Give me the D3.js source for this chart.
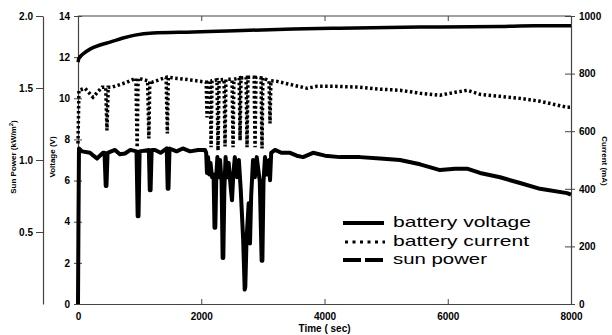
<!DOCTYPE html>
<html>
<head>
<meta charset="utf-8">
<script src="https://cdn.jsdelivr.net/npm/d3@7"></script>
<style>
  html, body { margin: 0; padding: 0; background: #fff; }
  svg { display: block; }
  text { font-family: "Liberation Sans", Arial, sans-serif; }
</style>
</head>
<body>
<svg id="chart" width="612" height="335"></svg>
<script>
// ---------- data ----------
const timeTicks = [0, 2000, 4000, 6000, 8000];
const voltTicks = [0, 2, 4, 6, 8, 10, 12, 14];
const sunTicks = [0.5, 1.0, 1.5, 2.0];
const currTicks = [0, 200, 400, 600, 800, 1000];

const voltTime = [0, 16, 81, 195, 357, 519, 730, 925, 1217, 1866, 2418, 3490, 4252, 5550, 6849, 7400, 8000];
const voltValue = [11.76, 11.95, 12.15, 12.39, 12.59, 12.73, 12.93, 13.07, 13.17, 13.22, 13.27, 13.37, 13.41, 13.46, 13.49, 13.52, 13.52];

const currTime = [0, 15, 114, 243, 390, 450, 470, 490, 552, 795, 940, 960, 975, 1130, 1150, 1165, 1201, 1430, 1450, 1465,
  1866, 2080, 2094, 2108, 2145, 2160, 2175, 2255, 2272, 2290, 2370, 2386, 2400, 2500, 2516, 2530, 2615, 2630, 2645,
  2728, 2743, 2758, 2858, 2873, 2888, 2970, 2986, 3000, 3100, 3116, 3130, 3230, 3490, 3717, 3879, 4139, 4577, 4901,
  5226, 5550, 5875, 6119, 6313, 6524, 6849, 7173, 7498, 7936, 8000];
const currValue = [557, 742, 749, 718, 753, 753, 603, 753, 753, 770, 784, 544, 784, 775, 575, 775, 770, 787, 592, 787,
  777, 770, 648, 770, 775, 544, 775, 778, 533, 778, 780, 547, 780, 780, 544, 780, 785, 568, 785,
  787, 544, 787, 787, 544, 787, 785, 540, 785, 775, 627, 775, 773, 760, 749, 756, 756, 753, 746,
  742, 732, 725, 735, 742, 728, 721, 714, 704, 683, 683];

const sunTime = [0, 8, 16, 65, 195, 250, 308, 406, 430, 450, 462, 480, 600, 680, 763, 850, 950, 968, 982, 1000, 1150, 1165, 1178, 1195,
  1250, 1340, 1440, 1455, 1468, 1485, 1600, 1700, 1818, 1950, 2061, 2080, 2093, 2110, 2130, 2150, 2175, 2200, 2215, 2228, 2245, 2262, 2280, 2305, 2330, 2347, 2358,
  2375, 2395, 2420, 2445, 2480, 2499, 2520, 2545, 2580, 2610, 2640, 2680, 2705, 2715, 2735, 2770, 2791, 2810, 2840, 2870, 2900, 2950, 2980, 2992, 3010,
  3035, 3060, 3100, 3116, 3135, 3197, 3300, 3441, 3550, 3652, 3814, 4009, 4252, 4577, 4901, 5226, 5550, 5875, 6119, 6313, 6524, 6849,
  7173, 7498, 7936, 8000];
const sunPower = [0, 0.6, 1.08, 1.06, 1.05, 1.03, 1.01, 1.05, 1.05, 0.82, 0.82, 1.05, 1.07, 1.04, 1.045, 1.07, 1.06, 0.61, 0.61, 1.06, 1.07, 0.79, 0.79, 1.07,
  1.07, 1.05, 1.08, 0.80, 0.80, 1.08, 1.06, 1.08, 1.06, 1.07, 1.07, 1.05, 0.91, 1.02, 0.90, 0.98, 0.88, 0.90, 0.53, 0.53, 0.90, 1.02, 0.88, 1.0, 0.85, 0.32, 0.32,
  0.80, 1.02, 0.88, 0.98, 0.80, 0.72, 0.90, 1.02, 0.88, 1.0, 0.80, 0.45, 0.10, 0.12, 0.45, 0.70, 0.42, 0.75, 1.0, 0.88, 1.02, 0.85, 0.30, 0.30, 0.85,
  1.02, 0.90, 1.0, 0.86, 1.05, 1.07, 1.05, 1.05, 1.03, 1.02, 1.05, 1.03, 1.02, 1.02, 1.01, 1.00, 0.97, 0.93, 0.94, 0.94, 0.91, 0.88,
  0.84, 0.80, 0.77, 0.76];

const legendLabels = ["battery voltage", "battery current", "sun power"];

// ---------- layout ----------
const svg = d3.select("#chart");
const X0 = 78, X1 = 571, Y0 = 304, Y1 = 16;
const x = d3.scaleLinear().domain([0, 8000]).range([X0, X1]);
const yV = d3.scaleLinear().domain([0, 14]).range([Y0, Y1]);
const yS = d3.scaleLinear().domain([0, 2]).range([Y0, Y1]);
const yC = d3.scaleLinear().domain([0, 1000]).range([Y0, Y1]);

const axisColor = "#444";
function styleAxis(g) {
  g.selectAll("path.domain").attr("stroke", axisColor).attr("stroke-width", 1.2);
  g.selectAll(".tick line").attr("stroke", axisColor).attr("stroke-width", 1);
  g.selectAll(".tick text").attr("font-family", "Liberation Sans, Arial, sans-serif")
    .attr("font-weight", "bold").attr("font-size", 10).attr("fill", "#000");
}

// top border
svg.append("line").attr("x1", X0).attr("x2", X1).attr("y1", Y1).attr("y2", Y1)
  .attr("stroke", axisColor).attr("stroke-width", 1.2);
// top ticks
svg.append("g").attr("transform", `translate(0,${Y1})`)
  .call(d3.axisTop(x).tickValues(timeTicks.slice(1, 4)).tickSize(-5).tickFormat(""))
  .call(g => g.select("path.domain").remove())
  .call(styleAxis);

// bottom axis
svg.append("g").attr("transform", `translate(0,${Y0})`)
  .call(d3.axisBottom(x).tickValues(timeTicks).tickSizeInner(-5).tickSizeOuter(0).tickPadding(9).tickFormat(d3.format("d")))
  .call(styleAxis);

// left voltage axis (crossing ticks)
const gV = svg.append("g").attr("transform", `translate(${X0},0)`)
  .call(d3.axisLeft(yV).tickValues(voltTicks).tickSizeInner(4).tickSizeOuter(0).tickPadding(4).tickFormat(d3.format("d")))
  .call(styleAxis);
gV.selectAll(".tick line").attr("x1", 4);

// right current axis
const gC = svg.append("g").attr("transform", `translate(${X1},0)`)
  .call(d3.axisRight(yC).tickValues(currTicks).tickSizeInner(4).tickSizeOuter(0).tickPadding(4).tickFormat(d3.format("d")))
  .call(styleAxis);
gC.selectAll(".tick line").attr("x1", -6);

// sun power axis (separate, far left)
svg.append("g").attr("transform", `translate(43,0)`)
  .call(d3.axisLeft(yS).tickValues(sunTicks).tickSizeInner(7).tickSizeOuter(0).tickPadding(3).tickFormat(d3.format(".1f")))
  .call(styleAxis);

// axis titles
svg.append("text").attr("x", (X0 + X1) / 2).attr("y", 332).attr("text-anchor", "middle")
  .attr("font-weight", "bold").attr("font-size", 10).text("Time ( sec)");

svg.append("text").attr("transform", "translate(16,157) rotate(-90)").attr("text-anchor", "middle")
  .attr("font-weight", "bold").attr("font-size", 8)
  .html('Sun Power (kW/m<tspan baseline-shift="super" font-size="6">2</tspan>)');

svg.append("text").attr("transform", "translate(55,157) rotate(-90)").attr("text-anchor", "middle")
  .attr("font-weight", "bold").attr("font-size", 8).text("Voltage (V)");

svg.append("text").attr("transform", "translate(602,161) rotate(90)").attr("text-anchor", "middle")
  .attr("font-weight", "bold").attr("font-size", 8).text("Current (mA)");

// ---------- series ----------
const sunData = sunTime.map((t, i) => [t, sunPower[i]]);
const voltData = voltTime.map((t, i) => [t, voltValue[i]]);
const currData = currTime.map((t, i) => [t, currValue[i]]);

svg.append("path").datum(sunData)
  .attr("d", d3.line().x(d => x(d[0])).y(d => yS(d[1])))
  .attr("fill", "none").attr("stroke", "#000").attr("stroke-width", 4).attr("stroke-linejoin", "round");

svg.append("path").datum(currData)
  .attr("d", d3.line().x(d => x(d[0])).y(d => yC(d[1])))
  .attr("fill", "none").attr("stroke", "#000").attr("stroke-width", 3.5).attr("stroke-dasharray", "2.5,2.5");

svg.append("path").datum(voltData)
  .attr("d", d3.line().curve(d3.curveMonotoneX).x(d => x(d[0])).y(d => yV(d[1])))
  .attr("fill", "none").attr("stroke", "#000").attr("stroke-width", 3.5);

// ---------- legend ----------
const legY = [223, 242, 260];
const legTextLen = [138, 136, 94];
const leg = svg.append("g");
leg.append("line").attr("x1", 343).attr("x2", 384).attr("y1", legY[0]).attr("y2", legY[0])
  .attr("stroke", "#000").attr("stroke-width", 4);
leg.append("line").attr("x1", 345).attr("x2", 385).attr("y1", legY[1]).attr("y2", legY[1])
  .attr("stroke", "#000").attr("stroke-width", 3).attr("stroke-dasharray", "3,4.5");
leg.append("line").attr("x1", 343).attr("x2", 384).attr("y1", legY[2]).attr("y2", legY[2])
  .attr("stroke", "#000").attr("stroke-width", 4).attr("stroke-dasharray", "18,4");
legendLabels.forEach((lab, i) => {
  leg.append("text").attr("x", 393).attr("y", legY[i] + 4).attr("font-size", 15)
    .attr("textLength", legTextLen[i]).attr("lengthAdjust", "spacingAndGlyphs").text(lab);
});
</script>
</body>
</html>
